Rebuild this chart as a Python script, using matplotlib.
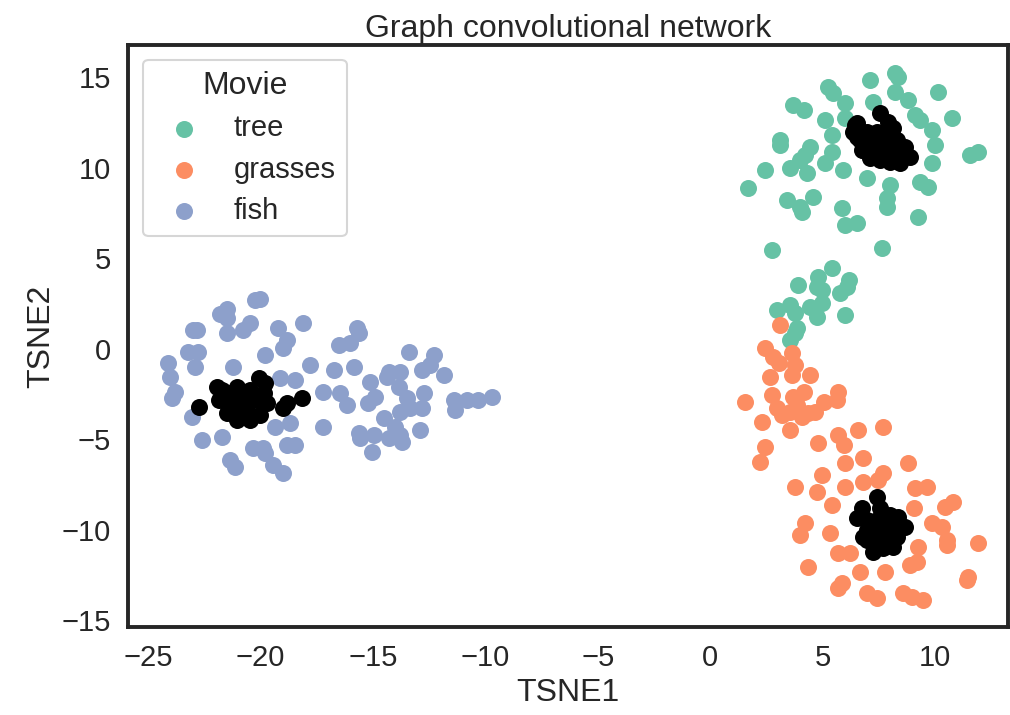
import matplotlib
matplotlib.use("Agg")
import matplotlib.pyplot as plt
import seaborn as sns

# t-SNE embedding of the GCN node features, one list per class
tree_x = [5.26, 5.48, 3.70, 4.15, 6.00, 5.11, 6.00, 5.41, 3.11, 3.11, 4.44, 4.22, 4.00, 5.41,
          5.11, 2.44, 3.56, 4.30, 5.92, 1.70, 3.41, 4.00, 4.08, 4.59, 5.85, 6.00, 6.52, 2.74,
          8.22, 8.37, 7.11, 10.15, 8.22, 8.81, 7.26, 9.11, 9.33, 10.74, 9.85, 10.00, 11.56, 11.92,
          9.85, 6.96, 8.00, 9.33, 9.70, 7.85, 7.85, 9.26, 7.63,
          5.41, 4.81, 4.74, 4.96, 6.15, 6.07, 5.78, 3.92, 4.96, 4.44, 4.74, 6.00, 2.96, 3.56,
          3.78, 3.85, 3.78, 3.56]
tree_y = [14.46, 14.10, 13.45, 13.18, 13.55, 12.62, 12.72, 11.80, 11.52, 11.24, 11.15, 10.69, 10.41, 10.87,
          10.23, 9.86, 9.96, 9.68, 9.86, 8.85, 8.20, 7.83, 7.56, 8.39, 7.75, 6.82, 6.92, 5.44,
          15.20, 15.02, 14.83, 14.19, 14.19, 13.73, 13.64, 12.90, 12.62, 12.72, 12.07, 11.24, 10.69, 10.87,
          10.23, 9.40, 9.03, 9.22, 8.94, 8.30, 7.83, 7.28, 5.54,
          4.43, 3.97, 3.41, 3.23, 3.78, 3.41, 3.05, 3.51, 2.50, 2.31, 1.76, 1.85, 2.13, 2.40,
          1.94, 1.12, 0.84, 0.47]

grasses_x = [3.11, 2.44, 3.63, 2.81, 3.04, 3.78, 3.63, 2.67, 4.44, 2.74, 1.56, 3.70, 4.15, 2.96,
             3.19, 3.56, 3.85, 4.07, 4.37, 4.67, 5.04, 5.70, 5.63, 2.30, 3.56, 5.70, 5.93, 6.59,
             4.81, 2.44, 2.22, 6.00, 6.81, 4.96, 3.78, 4.74, 6.00, 6.81,
             7.70, 8.81, 7.70, 7.48, 9.11, 9.63, 5.41, 9.04, 10.44, 10.81, 9.85, 10.30, 4.22, 4.00,
             5.33, 10.52, 10.52, 11.92, 9.26, 5.70, 6.22, 9.19, 8.89, 4.37, 6.67, 7.78, 11.48, 11.41,
             5.85, 5.70, 6.96, 7.41, 8.59, 8.96, 9.48]
grasses_y = [1.30, 0.01, -0.27, -0.45, -0.82, -0.91, -1.46, -1.56, -1.46, -2.57, -2.94, -2.66, -2.39, -3.30,
             -3.67, -3.49, -3.12, -3.77, -3.58, -3.49, -2.94, -2.39, -2.85, -4.04, -4.50, -4.78, -5.33, -4.50,
             -5.24, -5.42, -6.25, -6.34, -6.07, -6.99, -7.64, -7.91, -7.64, -7.36,
             -4.32, -6.34, -6.90, -7.27, -7.72, -7.64, -8.65, -8.83, -8.74, -8.46, -9.66, -9.85, -9.66, -10.30,
             -10.21, -10.58, -10.86, -10.76, -10.95, -11.31, -11.31, -11.78, -11.96, -12.06, -12.33, -12.33, -12.61, -12.79,
             -12.97, -13.25, -13.52, -13.80, -13.52, -13.71, -13.90]

fish_x = [-20.22, -20.00, -21.80, -21.50, -21.50, -22.98, -22.80, -21.47, -20.76, -20.44, -19.20, -18.09,
          -18.80, -18.98, -23.20, -22.76, -19.78, -24.09, -24.00, -22.89, -21.20, -17.78, -19.11, -18.44,
          -23.78, -23.91, -17.20, -23.02, -19.33, -18.67, -17.20, -22.58, -21.69, -20.31, -19.87, -19.78,
          -18.80, -18.44, -21.33, -21.11, -19.42, -18.98,
          -15.70, -15.63, -16.52, -16.00, -13.41, -12.30, -12.44, -12.81, -11.85, -16.74, -15.85, -14.30,
          -13.78, -14.37, -15.11, -13.85, -16.44, -16.15, -14.89, -15.19, -13.48, -12.74, -12.81, -13.33,
          -13.78, -11.41, -11.33, -10.81, -10.30, -9.70, -14.52, -14.00, -13.78, -14.30, -13.70, -12.89,
          -15.63, -15.56, -14.96, -15.04]
fish_y = [2.68, 2.73, 1.90, 2.20, 1.70, 1.02, 1.02, 0.86, 1.02, 1.41, 1.13, 1.41,
          0.47, 0.03, -0.19, -0.19, -0.36, -0.80, -1.57, -1.02, -1.02, -0.91, -1.63, -1.74,
          -2.40, -2.73, -2.40, -3.78, -4.34, -4.12, -4.34, -5.06, -4.89, -5.50, -5.50, -5.77,
          -5.33, -5.33, -6.16, -6.55, -6.44, -6.88,
          1.12, 0.84, 0.19, 0.29, -0.18, -0.36, -0.91, -1.19, -1.46, -1.19, -1.00, -1.28,
          -1.28, -1.56, -1.83, -2.11, -2.48, -3.12, -2.66, -3.03, -2.75, -2.48, -3.30, -3.30,
          -3.49, -2.85, -3.40, -2.85, -2.85, -2.66, -3.86, -4.32, -4.78, -4.96, -5.15, -4.50,
          -4.69, -4.96, -4.78, -5.70]

# labelled nodes, drawn in black on top
core_x = [-21.92, -21.70, -21.04, -20.44, -20.08, -19.78, -21.85, -21.33, -20.74, -20.15, -19.70, -21.48,
          -21.04, -20.44, -20.00, -21.19, -20.59, -19.85, -18.81, -18.15, -22.74, -21.56, -20.89, -20.30,
          -18.98,
          7.56, 7.92, 8.15, 6.52, 6.37, 6.96, 7.41, 7.85, 8.30, 8.67, 8.89, 8.44, 8.00, 7.56,
          7.11, 6.81, 7.26, 7.70, 8.15, 8.59, 7.70, 8.15, 6.67, 7.26, 7.85, 6.44, 6.52, 6.74,
          7.41, 6.74, 7.56, 6.52, 6.96, 7.41, 8.00, 8.37, 8.67, 6.96, 7.41, 7.85, 8.30, 6.96,
          7.41, 7.85, 8.30, 7.26, 8.15, 7.70, 6.81]
core_y = [-2.11, -2.29, -2.11, -2.29, -1.65, -1.92, -2.85, -2.85, -2.85, -2.85, -3.03, -3.58,
          -3.95, -3.95, -3.67, -3.40, -3.40, -2.48, -3.03, -2.75, -3.22, -2.39, -2.48, -2.57,
          -3.29,
          12.99, 12.53, 12.17, 12.44, 11.98, 11.98, 11.98, 11.80, 11.52, 11.15, 10.60, 10.23, 10.32, 10.41,
          10.51, 10.97, 11.15, 11.15, 10.97, 10.69, 10.69, 10.51, 11.52, 11.52, 11.42, 12.35, 11.70, 10.97,
          -8.19, -8.83, -8.83, -9.38, -9.48, -9.48, -9.20, -9.29, -9.85, -10.03, -10.03, -9.85, -9.85, -10.58,
          -10.58, -10.49, -10.40, -11.23, -10.95, -11.04, -10.40]

labels = ["tree", "grasses", "fish"]
palette = sns.color_palette("Set2", 3)

sns.set_theme(style="white", context="talk")
plt.rcParams["font.family"] = ["Liberation Sans", "DejaVu Sans"]
plt.rcParams.update({
    "xtick.labelsize": 21,
    "ytick.labelsize": 21,
    "axes.labelsize": 23,
    "axes.titlesize": 23,
    "legend.fontsize": 21,
    "legend.title_fontsize": 23,
})

fig = plt.figure(figsize=(10.1, 7.15), dpi=100)
ax = fig.add_axes([0.127, 0.123, 0.871, 0.814])

for (xs, ys), name, col in zip([(tree_x, tree_y), (grasses_x, grasses_y), (fish_x, fish_y)],
                               labels, palette):
    ax.scatter(xs, ys, s=150, color=col, label=name, linewidths=0)
ax.scatter(core_x, core_y, s=150, color="black", linewidths=0)

ax.set_xlim(-25.87, 13.24)
ax.set_ylim(-15.39, 16.77)
ax.set_xticks([-25, -20, -15, -10, -5, 0, 5, 10])
ax.set_yticks([-15, -10, -5, 0, 5, 10, 15])
for sp in ax.spines.values():
    sp.set_linewidth(2.8)

ax.set_xlabel("TSNE1")
ax.set_ylabel("TSNE2")
ax.set_title("Graph convolutional network")
ax.legend(title="Movie", loc="upper left", scatterpoints=1, handletextpad=0.7,
          borderaxespad=0.5, labelspacing=0.45)

plt.savefig("out.png", dpi=100)
